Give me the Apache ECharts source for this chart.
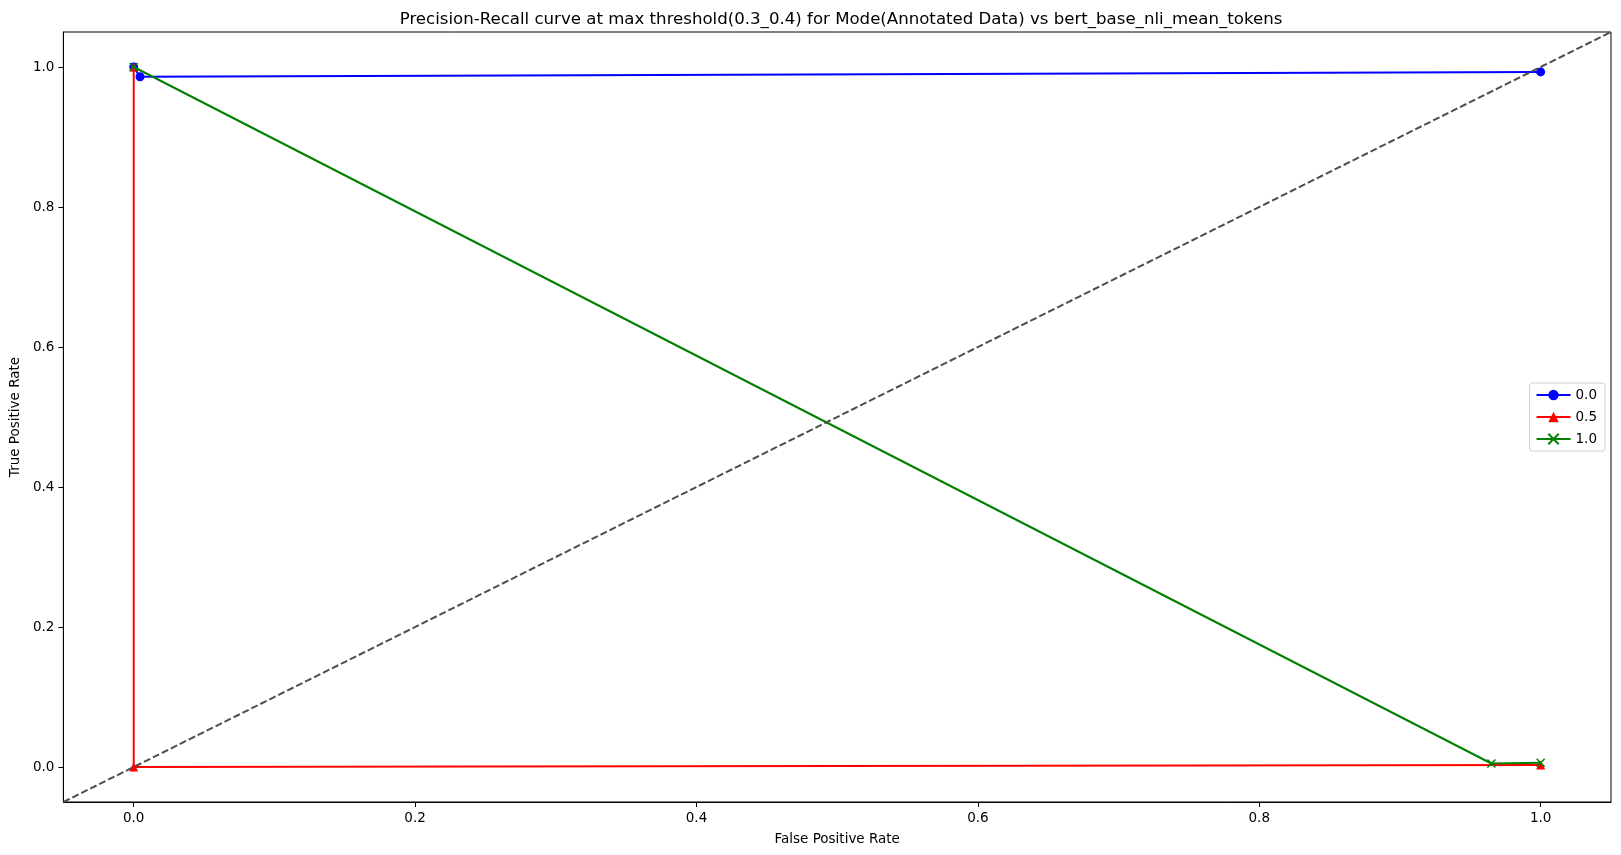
<!DOCTYPE html>
<html>
<head>
<meta charset="utf-8">
<script src="https://cdn.jsdelivr.net/npm/echarts@6/dist/echarts.min.js"></script>
<style>
html,body{margin:0;padding:0;background:#fff;}
#chart{width:1621px;height:855px;}
</style>
</head>
<body>
<div id="chart"></div>
<script>
const titleText = 'Precision-Recall curve at max threshold(0.3_0.4) for Mode(Annotated Data) vs bert_base_nli_mean_tokens';
const seriesNames = ['0.0', '0.5', '1.0'];
const fpr00 = [0, 0.0045, 1.0];
const tpr00 = [1.0, 0.986, 0.993];
const fpr05 = [0, 0, 1.0];
const tpr05 = [1.0, 0.0, 0.003];
const fpr10 = [0, 0.965, 1.0];
const tpr10 = [1.0, 0.005, 0.006];
const diagX = [-0.05, 1.05];
const diagY = [-0.05, 1.05];
const tickValues = [0, 0.2, 0.4, 0.6, 0.8, 1.0];

const zip = (a, b) => a.map((v, i) => [v, b[i]]);
const FONT = 'DejaVu Sans';
const xPath = 'path://M0,0L10,10M10,0L0,10';

const chart = echarts.init(document.getElementById('chart'));
const axisCommon = {
  type: 'value',
  min: -0.05,
  max: 1.05,
  splitLine: { show: false },
  axisLine: { show: true, onZero: false, lineStyle: { color: '#000', width: 1 } },
  axisTick: { show: true, length: 5, customValues: tickValues, lineStyle: { color: '#000' } },
  axisLabel: { customValues: tickValues, formatter: v => v.toFixed(1), color: '#000', fontFamily: FONT, fontSize: 13.5, margin: 9 },
  nameLocation: 'middle',
  nameTextStyle: { color: '#000', fontFamily: FONT, fontSize: 13.5 }
};
chart.setOption({
  animation: false,
  backgroundColor: '#fff',
  title: {
    text: titleText,
    left: 836,
    textAlign: 'center',
    top: 6,
    textStyle: { fontFamily: FONT, fontSize: 16.6, fontWeight: 'normal', color: '#000' }
  },
  grid: { left: 61, right: 10, top: 32, bottom: 53, show: true, borderColor: '#000', borderWidth: 1 },
  xAxis: Object.assign({}, axisCommon, { name: 'False Positive Rate', nameGap: 30 }),
  yAxis: Object.assign({}, axisCommon, { name: 'True Positive Rate', nameGap: 39 }),
  legend: {
    data: seriesNames,
    orient: 'vertical',
    right: 16,
    top: 383,
    itemWidth: 34,
    itemHeight: 13,
    itemGap: 8,
    padding: [5, 8, 5, 6],
    borderColor: '#d0d0d0',
    borderWidth: 1,
    borderRadius: 3,
    textStyle: { fontFamily: FONT, fontSize: 13.5, color: '#000' }
  },
  series: [
    {
      name: seriesNames[0], type: 'line', data: zip(fpr00, tpr00),
      symbol: 'circle', symbolSize: 9,
      lineStyle: { color: '#0000ff', width: 2 },
      itemStyle: { color: '#0000ff' }, z: 2
    },
    {
      name: seriesNames[1], type: 'line', data: zip(fpr05, tpr05),
      symbol: 'triangle', symbolSize: 9,
      lineStyle: { color: '#ff0000', width: 2 },
      itemStyle: { color: '#ff0000' }, z: 3
    },
    {
      name: seriesNames[2], type: 'line', data: zip(fpr10, tpr10),
      symbol: xPath, symbolSize: 8,
      lineStyle: { color: '#008000', width: 2 },
      itemStyle: { color: '#008000', borderColor: '#008000', borderWidth: 1.5 }, z: 4
    },
    {
      name: 'diag', type: 'line', data: zip(diagX, diagY),
      symbol: 'none', silent: true,
      lineStyle: { color: '#4d4d4d', width: 2, type: [7, 3] }, z: 5
    }
  ]
});
</script>
</body>
</html>
